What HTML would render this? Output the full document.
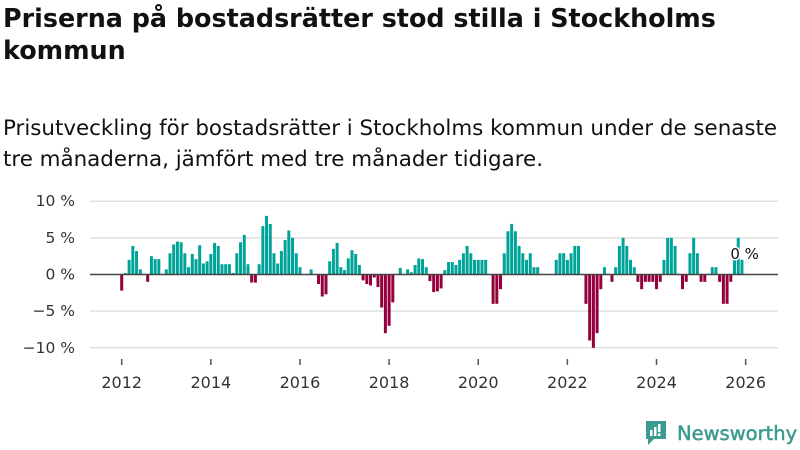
<!DOCTYPE html>
<html><head><meta charset="utf-8"><style>
body{margin:0;width:800px;height:450px;background:#fff;font-family:"DejaVu Sans","Liberation Sans",sans-serif;overflow:hidden;position:relative;color:#111}
h1{position:absolute;left:3px;top:2px;margin:0;font-size:25.4px;line-height:32px;font-weight:bold;width:795px}
.sub{position:absolute;left:3px;top:113px;font-size:21.4px;line-height:31px;margin:0;white-space:nowrap}
svg{position:absolute;left:0;top:0}
</style></head><body>
<h1>Priserna på bostadsrätter stod stilla i Stockholms kommun</h1>
<p class="sub">Prisutveckling för bostadsrätter i Stockholms kommun under de senaste<br>tre månaderna, jämfört med tre månader tidigare.</p>
<svg id="chart" width="800" height="450"></svg>
<div style="position:absolute;left:644px;top:419px;display:flex;align-items:center">
<svg width="24" height="28" style="position:static"><path d="M2 2h20v18h-12l-6 6v-6h-2z" fill="#3a9b8e"/><rect x="6" y="11" width="2.5" height="6" fill="#fff"/><rect x="10" y="8" width="2.5" height="9" fill="#fff"/><rect x="14" y="5" width="2.5" height="8" fill="#fff"/><rect x="14" y="14.5" width="2.5" height="2.5" fill="#fff"/></svg>
<span style="color:#3a9b8e;font-size:19.5px;margin-left:9px;-webkit-text-stroke:0.5px #3a9b8e">Newsworthy</span></div>
<script>
const values=[-2.2,0.2,2.0,3.9,3.2,0.7,0,-1.0,2.5,2.1,2.1,0,
0.7,2.9,4.1,4.5,4.4,2.9,1.0,2.8,2.1,4.0,1.5,1.8,
2.8,4.3,3.9,1.4,1.4,1.4,0.2,2.9,4.4,5.4,1.4,-1.1,
-1.1,1.4,6.6,8.0,6.9,2.9,1.5,3.2,4.7,6.0,5.0,2.9,
1.0,0,0,0.7,0,-1.3,-3.0,-2.7,1.8,3.5,4.3,1.0,
0.6,2.2,3.3,2.8,1.3,-0.8,-1.3,-1.5,-0.4,-1.7,-4.5,-8.0,
-7.0,-3.8,0,0.9,0,0.7,0.3,1.3,2.2,2.1,1.0,-0.9,
-2.4,-2.3,-1.9,0.6,1.7,1.7,1.3,2.0,2.9,3.9,2.9,2.0,
2.0,2.0,2.0,0,-4.0,-4.0,-2.0,2.9,5.9,6.9,5.9,3.9,
2.9,2.0,2.9,1.0,1.0,0,0,0,0,2.0,2.9,2.9,
2.0,2.9,3.9,3.9,0,-4.0,-9.0,-10.0,-8.0,-2.0,1.0,0,
-1.0,1.0,3.9,5.0,3.9,2.0,1.0,-1.0,-2.0,-1.0,-1.0,-1.0,
-2.0,-1.0,2.0,5.0,5.0,3.9,0,-2.0,-1.0,2.9,5.0,2.9,
-1.0,-1.0,0,1.0,1.0,-1.0,-4.0,-4.0,-1.0,2.0,5.0,2.0,0];
const yTicks=[10,5,0,-5,-10];
const yLabels=["10 %","5 %","0 %","−5 %","−10 %"];
const xYears=[2012,2014,2016,2018,2020,2022,2024,2026];
const startYear=2012;
const NS="http://www.w3.org/2000/svg";
const svg=document.getElementById('chart');
const y=v=>274.5-v*7.33;
const x=k=>121.7+k*3.714;
const xYear=yr=>x((yr-startYear)*12);
function mk(t,a){const e=document.createElementNS(NS,t);for(const k in a)e.setAttribute(k,a[k]);svg.appendChild(e);return e;}
yTicks.forEach((t,i)=>{
 if(t!==0){const g=mk('line',{x1:90,x2:778,y1:y(t),y2:y(t),stroke:'#e0e0e0','stroke-width':1.5});
 
 }
 const l=mk('text',{x:75,y:y(t)+5,'text-anchor':'end','font-size':15.5,fill:'#333','font-family':'DejaVu Sans, Liberation Sans, sans-serif'});
 l.textContent=yLabels[i];
 
 
});
values.forEach((v,k)=>{
 if(v===0)return;
 const b=mk('rect',{x:x(k)-1.5,width:3,y:Math.min(y(v),y(0)),height:Math.abs(y(v)-y(0)),fill:v>0?'#00a398':'#95003b'});
 
 
});
const z=mk('line',{x1:90,x2:778,y1:y(0),y2:y(0),stroke:'#444','stroke-width':1.5});


xYears.forEach(yr=>{
 const t=mk('line',{x1:xYear(yr),x2:xYear(yr),y1:359,y2:365,stroke:'#555','stroke-width':1.5});
 
 
 const l=mk('text',{x:xYear(yr),y:388,'text-anchor':'middle','font-size':16,fill:'#333','font-family':'DejaVu Sans, Liberation Sans, sans-serif'});
 l.textContent=yr;
 
 
});
const last=values.length-1;
const lab=mk('text',{x:x(last)-1,y:259,'text-anchor':'middle','font-size':15,fill:'#111',stroke:'#fff','stroke-width':3,'paint-order':'stroke','font-family':'DejaVu Sans, Liberation Sans, sans-serif'});
lab.textContent=values[last]+" %";


</script>
</body></html>
